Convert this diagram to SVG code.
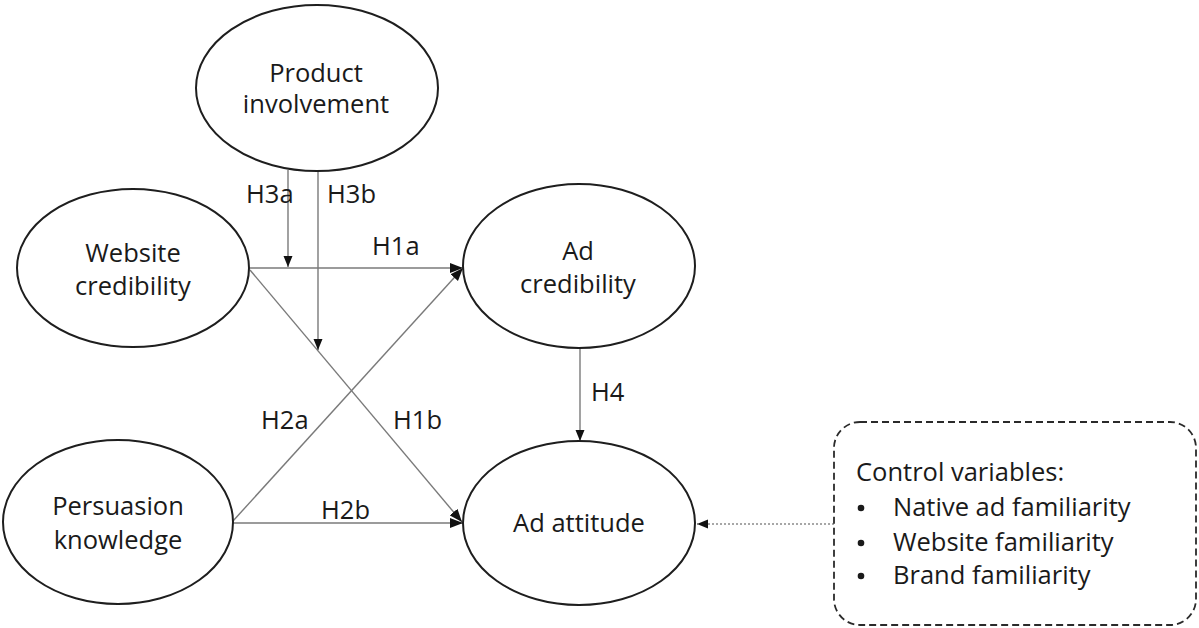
<svg xmlns="http://www.w3.org/2000/svg" width="1199" height="628" viewBox="0 0 1199 628">
  <style>
    .node { fill: #ffffff; stroke: #1e1e1e; stroke-width: 2; }
    .lbl { font-family: "Open Sans", "Liberation Sans", sans-serif; font-size: 25.5px; fill: #1a1a1a; }
    .mid { text-anchor: middle; }
    .edge { stroke: #7a7a7a; stroke-width: 1.4; fill: none; }
    .dot { stroke: #8a8a8a; stroke-width: 1.6; stroke-dasharray: 2 2; fill: none; }
    .box { fill: none; stroke: #2a2a2a; stroke-width: 1.8; stroke-dasharray: 7 4; }
  </style>
  <defs>
    <marker id="head" markerUnits="userSpaceOnUse" markerWidth="14" markerHeight="12" refX="13" refY="6" orient="auto">
      <path d="M0,1 L13,6 L0,11 Z" fill="#111"/>
    </marker>
    <marker id="headSm" markerUnits="userSpaceOnUse" markerWidth="12" markerHeight="10" refX="11" refY="5" orient="auto">
      <path d="M0,0.5 L11,5 L0,9.5 Z" fill="#111"/>
    </marker>
  </defs>

  <rect width="1199" height="628" fill="#ffffff"/>

  <!-- connectors -->
  <g id="connectors">
    <line class="edge" x1="250" y1="268" x2="463" y2="268" marker-end="url(#head)"/>
    <line class="edge" x1="250" y1="270" x2="462" y2="522" marker-end="url(#head)"/>
    <line class="edge" x1="233" y1="521" x2="463" y2="268" marker-end="url(#head)"/>
    <line class="edge" x1="233" y1="523" x2="463" y2="523" marker-end="url(#head)"/>
    <line class="edge" x1="288" y1="170" x2="288" y2="267" marker-end="url(#headSm)"/>
    <line class="edge" x1="318" y1="171" x2="318" y2="350" marker-end="url(#headSm)"/>
    <line class="edge" x1="580" y1="348" x2="580" y2="441" marker-end="url(#headSm)"/>
    <line class="dot" x1="834" y1="524" x2="697" y2="524" marker-end="url(#headSm)"/>

    <text class="lbl" x="246" y="203">H3a</text>
    <text class="lbl" x="327" y="203">H3b</text>
    <text class="lbl" x="372" y="255">H1a</text>
    <text class="lbl" x="261" y="429">H2a</text>
    <text class="lbl" x="393" y="429">H1b</text>
    <text class="lbl" x="321" y="519">H2b</text>
    <text class="lbl" x="591" y="401">H4</text>
  </g>

  <g id="product-involvement">
    <ellipse class="node" cx="317" cy="88" rx="121" ry="83"/>
    <text class="lbl mid" x="316" y="82">Product</text>
    <text class="lbl mid" x="316" y="113">involvement</text>
  </g>

  <g id="website-credibility">
    <ellipse class="node" cx="133" cy="268" rx="116" ry="79"/>
    <text class="lbl mid" x="133" y="262">Website</text>
    <text class="lbl mid" x="133" y="295">credibility</text>
  </g>

  <g id="ad-credibility">
    <ellipse class="node" cx="579" cy="266" rx="116" ry="82"/>
    <text class="lbl mid" x="578" y="260">Ad</text>
    <text class="lbl mid" x="578" y="293">credibility</text>
  </g>

  <g id="persuasion-knowledge">
    <ellipse class="node" cx="118" cy="522" rx="115" ry="82"/>
    <text class="lbl mid" x="118" y="515">Persuasion</text>
    <text class="lbl mid" x="118" y="549">knowledge</text>
  </g>

  <g id="ad-attitude">
    <ellipse class="node" cx="579" cy="523" rx="116" ry="82"/>
    <text class="lbl mid" x="579" y="532">Ad attitude</text>
  </g>

  <g id="control-variables">
    <rect class="box" x="834" y="422" width="362" height="203" rx="26" ry="26"/>
    <text class="lbl" x="856" y="481">Control variables:</text>
    <circle cx="861" cy="508" r="3.3" fill="#1a1a1a"/>
    <circle cx="861" cy="543" r="3.3" fill="#1a1a1a"/>
    <circle cx="861" cy="576" r="3.3" fill="#1a1a1a"/>
    <text class="lbl" x="893" y="516">Native ad familiarity</text>
    <text class="lbl" x="893" y="551">Website familiarity</text>
    <text class="lbl" x="893" y="584">Brand familiarity</text>
  </g>
</svg>
